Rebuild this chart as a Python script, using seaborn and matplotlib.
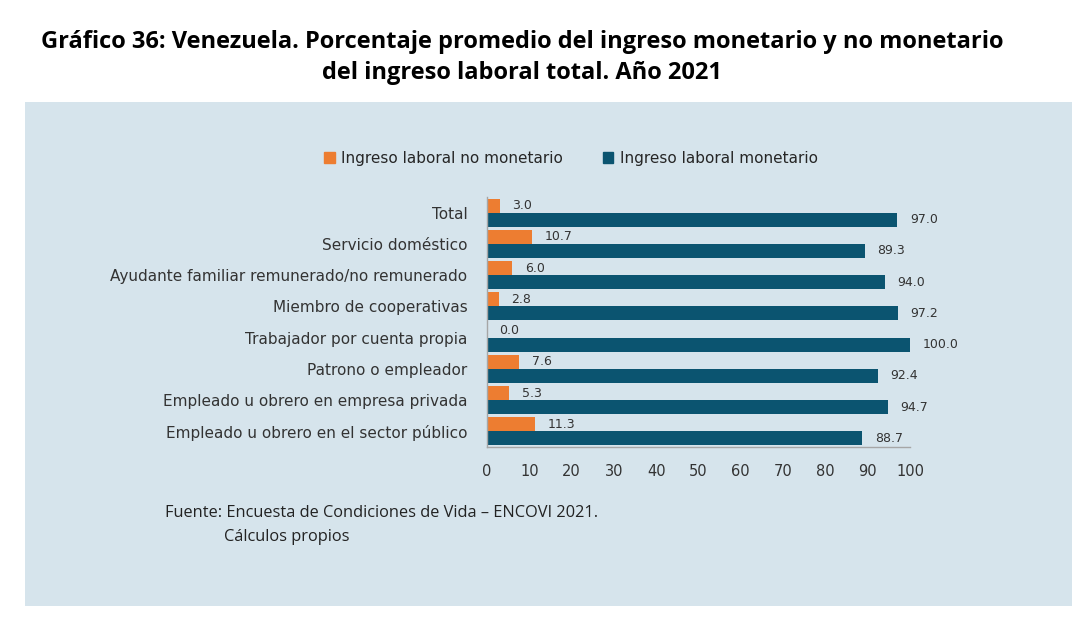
import pandas as pd
import matplotlib
matplotlib.use("Agg")
import matplotlib.pyplot as plt
import seaborn as sns
from matplotlib.patches import Rectangle

categorias = [
    "Total",
    "Servicio doméstico",
    "Ayudante familiar remunerado/no remunerado",
    "Miembro de cooperativas",
    "Trabajador por cuenta propia",
    "Patrono o empleador",
    "Empleado u obrero en empresa privada",
    "Empleado u obrero en el sector público",
]
no_monetario = [3.0, 10.7, 6.0, 2.8, 0.0, 7.6, 5.3, 11.3]
monetario = [97.0, 89.3, 94.0, 97.2, 100.0, 92.4, 94.7, 88.7]
series = ["Ingreso laboral no monetario", "Ingreso laboral monetario"]
x_ticks = [0, 10, 20, 30, 40, 50, 60, 70, 80, 90, 100]

colores = ["#ED7D31", "#0B5470"]
fondo = "#D6E4EC"

df = pd.DataFrame({
    "categoria": categorias * 2,
    "serie": [series[0]] * len(categorias) + [series[1]] * len(categorias),
    "valor": no_monetario + monetario,
})

sns.set_style("white")
plt.rcParams["font.family"] = ["DejaVu Sans"]

fig = plt.figure(figsize=(10.92, 6.22), dpi=100)
fig.patches.append(Rectangle((25 / 1092, 1 - 606 / 622), (1072 - 25) / 1092, (606 - 102) / 622,
                             transform=fig.transFigure, facecolor=fondo, edgecolor="none", zorder=-10))

ax = fig.add_axes([487 / 1092, 1 - 447 / 622, (910 - 487) / 1092, (447 - 197) / 622])
ax.set_facecolor(fondo)

sns.barplot(data=df, y="categoria", x="valor", hue="serie", order=categorias, hue_order=series,
            palette=colores, width=0.9, gap=0, saturation=1, orient="h", ax=ax, legend=False,
            linewidth=0)

for cont in ax.containers:
    ax.bar_label(cont, fmt="%.1f", padding=9, fontsize=9, color="#333333")

ax.set_xlim(0, 100)
ax.set_xticks(x_ticks)
ax.tick_params(axis="x", labelsize=10.5, colors="#333333", length=0, pad=12)
ax.tick_params(axis="y", labelsize=11, colors="#333333", length=0, pad=14)
ax.set_xlabel("")
ax.set_ylabel("")
for s in ["top", "right"]:
    ax.spines[s].set_visible(False)
for s in ["left", "bottom"]:
    ax.spines[s].set_color("#A6A6A6")
    ax.spines[s].set_linewidth(1)

# leyenda
handles = [Rectangle((0, 0), 1, 1, color=c) for c in colores]
fig.legend(handles, series, loc="center", bbox_to_anchor=(571 / 1092, 1 - 158 / 622), ncol=2,
           frameon=False, fontsize=11, handlelength=0.7, handleheight=0.7, handletextpad=0.4,
           columnspacing=2.6)

titulo = dict(ha="center", va="center", fontsize=17, fontweight="bold", color="black",
              family=["Open Sans", "DejaVu Sans"])
fig.text(522 / 1092, 1 - 42 / 622,
         "Gráfico 36: Venezuela. Porcentaje promedio del ingreso monetario y no monetario", **titulo)
fig.text(522 / 1092, 1 - 73 / 622, "del ingreso laboral total. Año 2021", **titulo)

pie = dict(ha="left", va="center", fontsize=11.8, color="#222222", family=["Open Sans", "DejaVu Sans"])
fig.text(165 / 1092, 1 - 513 / 622, "Fuente: Encuesta de Condiciones de Vida – ENCOVI 2021.", **pie)
fig.text(224 / 1092, 1 - 537 / 622, "Cálculos propios", **pie)

fig.savefig("out.png", dpi=100, facecolor="white")
